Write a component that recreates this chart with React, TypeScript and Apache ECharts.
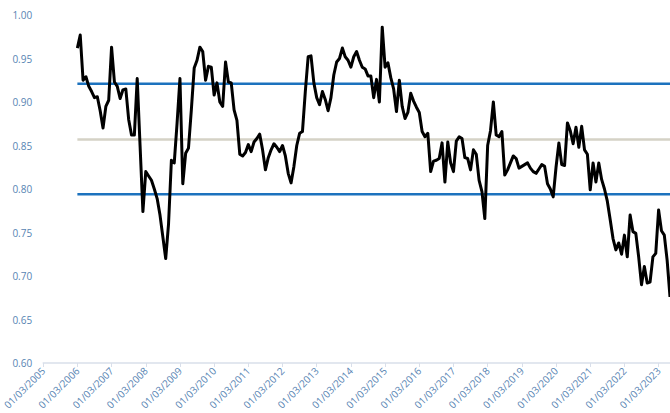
import React, { useEffect, useRef } from "react";
import * as echarts from "echarts";

// Monthly axis: 01/03/2005 .. 01/07/2023
const startYear = 2005;
const startMonth = 3;
const monthCount = 221;
const firstDataIndex = 12; // data begins 01/03/2006

const values: number[] = [
  0.962, 0.977, 0.925, 0.929, 0.918, 0.912, 0.905, 0.906, 0.890, 0.870,
  0.895, 0.902, 0.963, 0.923, 0.918, 0.904, 0.914, 0.915, 0.880, 0.862,
  0.862, 0.927, 0.850, 0.774, 0.820, 0.815, 0.810, 0.800, 0.789, 0.770,
  0.745, 0.720, 0.760, 0.833, 0.830, 0.876, 0.927, 0.806, 0.841, 0.847,
  0.891, 0.939, 0.948, 0.963, 0.958, 0.925, 0.941, 0.940, 0.908, 0.922,
  0.900, 0.895, 0.946, 0.923, 0.922, 0.891, 0.879, 0.840, 0.838, 0.842,
  0.851, 0.843, 0.854, 0.858, 0.863, 0.845, 0.822, 0.836, 0.845, 0.852,
  0.848, 0.843, 0.850, 0.838, 0.818, 0.807, 0.826, 0.850, 0.864, 0.866,
  0.912, 0.952, 0.953, 0.922, 0.905, 0.897, 0.912, 0.903, 0.890, 0.905,
  0.931, 0.946, 0.950, 0.962, 0.952, 0.948, 0.940, 0.952, 0.958, 0.948,
  0.940, 0.938, 0.930, 0.930, 0.905, 0.926, 0.900, 0.986, 0.940, 0.945,
  0.928, 0.915, 0.889, 0.925, 0.895, 0.881, 0.888, 0.910, 0.901, 0.894,
  0.888, 0.866, 0.860, 0.864, 0.820, 0.832, 0.833, 0.835, 0.853, 0.808,
  0.854, 0.830, 0.820, 0.855, 0.860, 0.858, 0.836, 0.835, 0.822, 0.845,
  0.840, 0.810, 0.797, 0.766, 0.850, 0.867, 0.900, 0.862, 0.860, 0.866,
  0.816, 0.822, 0.830, 0.838, 0.835, 0.824, 0.826, 0.828, 0.830, 0.824,
  0.820, 0.818, 0.823, 0.828, 0.826, 0.806, 0.800, 0.791, 0.825, 0.853,
  0.828, 0.827, 0.876, 0.867, 0.852, 0.871, 0.848, 0.872, 0.845, 0.840,
  0.799, 0.830, 0.808, 0.830, 0.811, 0.800, 0.786, 0.765, 0.743, 0.730,
  0.738, 0.725, 0.747, 0.722, 0.770, 0.751, 0.749, 0.722, 0.690, 0.711,
  0.692, 0.693, 0.722, 0.726, 0.776, 0.752, 0.747, 0.718, 0.676,
];

const meanLevel = 0.857;
const upperLevel = 0.921;
const lowerLevel = 0.794;

const yTicks = ["0.60", "0.65", "0.70", "0.75", "0.80", "0.85", "0.90", "0.95", "1.00"];

export default function App() {
  const ref = useRef<HTMLDivElement>(null);

  useEffect(() => {
    document.body.style.margin = "0";
    if (!ref.current) return;
    const chart = echarts.init(ref.current, null, { renderer: "svg" });

    const categories: string[] = [];
    for (let i = 0; i < monthCount; i++) {
      const m = startMonth - 1 + i;
      const y = startYear + Math.floor(m / 12);
      const mm = (m % 12) + 1;
      categories.push(`01/${mm < 10 ? "0" + mm : mm}/${y}`);
    }
    const pad = (arr: (number | null)[]) => {
      const out: (number | null)[] = [];
      for (let i = 0; i < firstDataIndex; i++) out.push(null);
      return out.concat(arr);
    };
    const constant = (v: number) => pad(values.map(() => v));

    const labelColor = "#5784b3";
    const font = "'Open Sans', sans-serif";

    chart.setOption({
      animation: false,
      grid: { left: 43, right: 0, top: 15, bottom: 50, containLabel: false },
      xAxis: {
        type: "category",
        data: categories,
        boundaryGap: false,
        axisLine: { lineStyle: { color: "#d9dfea", width: 1.5 } },
        axisTick: { interval: 11, length: 4, lineStyle: { color: "#d9dfea" } },
        axisLabel: {
          interval: 11,
          rotate: 45,
          color: labelColor,
          fontSize: 10,
          fontFamily: font,
          margin: 6,
        },
        splitLine: { show: false },
      },
      yAxis: {
        type: "value",
        min: 0.6,
        max: 1.0,
        interval: 0.05,
        axisLine: { show: false },
        axisTick: { show: false },
        splitLine: { show: false },
        axisLabel: {
          color: labelColor,
          fontSize: 10,
          fontFamily: font,
          margin: 11,
          formatter: (v: number) => {
            const idx = Math.round((v - 0.6) / 0.05);
            return yTicks[idx] ?? v.toFixed(2);
          },
        },
      },
      series: [
        {
          type: "line",
          data: constant(meanLevel),
          symbol: "none",
          lineStyle: { color: "#d5d2c6", width: 2.5 },
          z: 1,
        },
        {
          type: "line",
          data: constant(upperLevel),
          symbol: "none",
          lineStyle: { color: "#1c72be", width: 2.5 },
          z: 1,
        },
        {
          type: "line",
          data: constant(lowerLevel),
          symbol: "none",
          lineStyle: { color: "#1c72be", width: 2.5 },
          z: 1,
        },
        {
          type: "line",
          data: pad(values),
          symbol: "none",
          lineStyle: { color: "#000000", width: 3, join: "round" },
          z: 3,
        },
      ],
    });

    return () => chart.dispose();
  }, []);

  return <div ref={ref} style={{ width: 670, height: 413 }} />;
}
